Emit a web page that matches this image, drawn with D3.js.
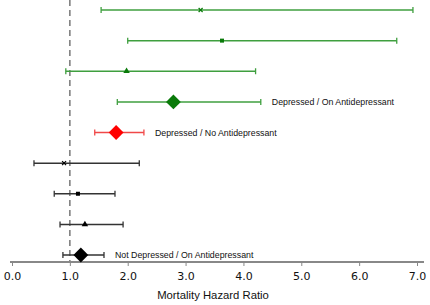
<!DOCTYPE html>
<html>
<head>
<meta charset="utf-8">
<script src="https://cdn.jsdelivr.net/npm/d3@7"></script>
<style>
  body { margin: 0; background: #fff; }
  text { font-family: "Liberation Sans", Arial, sans-serif; }
</style>
</head>
<body>
<svg id="chart" width="430" height="305"></svg>
<script>
// rows, top to bottom
const rows = ["r1", "r2", "r3", "r4", "r5", "r6", "r7", "r8", "r9"];
const estimates = [3.26, 3.63, 1.98, 2.79, 1.80, 0.90, 1.14, 1.26, 1.19];
const lower = [1.54, 2.00, 0.93, 1.82, 1.43, 0.38, 0.73, 0.83, 0.88];
const upper = [6.93, 6.65, 4.21, 4.30, 2.28, 2.20, 1.78, 1.92, 1.59];
const groups = ["green", "green", "green", "green", "red", "black", "black", "black", "black"];
const markers = ["cross", "square", "triangle", "diamond", "diamond", "cross", "square", "triangle", "diamond"];
const labels = ["", "", "", "Depressed / On Antidepressant", "Depressed / No Antidepressant", "", "", "", "Not Depressed / On Antidepressant"];
const ticks = [0, 1, 2, 3, 4, 5, 6, 7];

const svg = d3.select("#chart");

const x = d3.scaleLinear().domain([0, 7]).range([12, 417]);
const y = d3.scalePoint().domain(rows).range([10, 255]);

const lineColor = { green: "#3f9f3f", red: "#f04848", black: "#333" };
const markColor = { green: "#0a7a0a", red: "#ff0000", black: "#000" };

// reference line at 1.0
svg.append("line")
  .attr("x1", x(1)).attr("x2", x(1))
  .attr("y1", 0).attr("y2", 262)
  .attr("stroke", "#777").attr("stroke-width", 1.5)
  .attr("stroke-dasharray", "6,4");

// axis
const axis = svg.append("g")
  .attr("transform", "translate(0,262)")
  .call(d3.axisBottom(x).tickValues(ticks).tickFormat(d3.format(".1f")).tickSize(4).tickPadding(6));
axis.select(".domain").attr("d", "M10,0H424").attr("stroke", "#888").attr("stroke-width", 2);
axis.selectAll(".tick line").attr("stroke", "#888");
axis.selectAll(".tick text").attr("font-size", 11).attr("fill", "#111")
  .style("font-family", "DejaVu Sans, sans-serif");

svg.append("text")
  .attr("x", 213).attr("y", 299)
  .attr("text-anchor", "middle")
  .attr("font-size", 11.3).attr("fill", "#111")
  .text("Mortality Hazard Ratio");

const data = rows.map((r, i) => ({
  row: r, est: estimates[i], lo: lower[i], hi: upper[i],
  group: groups[i], marker: markers[i], label: labels[i]
}));

const g = svg.selectAll("g.row").data(data).join("g").attr("class", "row")
  .attr("transform", d => `translate(0,${y(d.row)})`);

g.append("line")
  .attr("x1", d => x(d.lo)).attr("x2", d => x(d.hi))
  .attr("stroke", d => lineColor[d.group]).attr("stroke-width", 1.5);

g.selectAll("line.cap").data(d => [d.lo, d.hi].map(v => ({ v, group: d.group })))
  .join("line").attr("class", "cap")
  .attr("x1", c => x(c.v)).attr("x2", c => x(c.v))
  .attr("y1", -3).attr("y2", 3)
  .attr("stroke", c => lineColor[c.group]).attr("stroke-width", 1.3);

const symbolFor = {
  cross: d3.symbol().type(d3.symbolX).size(12),
  square: d3.symbol().type(d3.symbolSquare).size(16),
  triangle: d3.symbol().type(d3.symbolTriangle).size(18),
  diamond: d3.symbol().type(d3.symbolSquare).size(110)
};

g.append("path")
  .attr("d", d => symbolFor[d.marker]())
  .attr("transform", d => `translate(${x(d.est)},0)` + (d.marker === "diamond" ? " rotate(45)" : ""))
  .attr("fill", d => markColor[d.group])
  .attr("stroke", d => d.marker === "cross" ? markColor[d.group] : "none")
  .attr("stroke-width", 1.2);

g.filter(d => d.label).append("text")
  .attr("x", d => x(d.hi) + 11)
  .attr("dy", "0.35em")
  .attr("font-size", 8.8)
  .attr("fill", "#111")
  .text(d => d.label);
</script>
</body>
</html>
